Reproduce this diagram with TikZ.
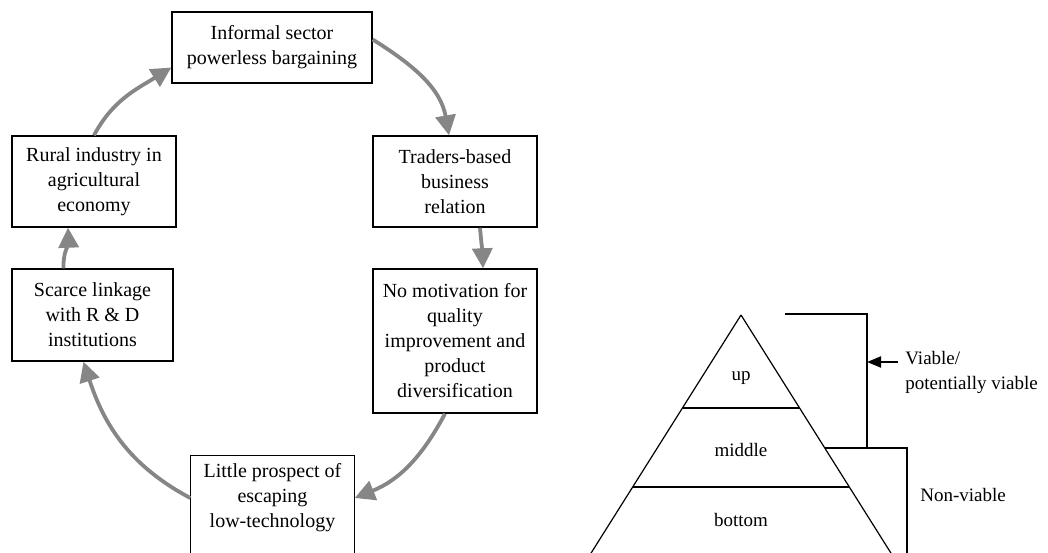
\documentclass[tikz,border=0pt]{standalone}
\usepackage{fontspec}
\setmainfont{Liberation Serif}
\usetikzlibrary{arrows.meta}

\tikzset{
  box/.style={draw, line width=0.7pt, align=center, inner sep=0pt,
    font=\fontsize{10}{12.5}\selectfont},
  cycle/.style={draw=gray!95, line width=1.9pt,
    -{Triangle[length=10pt,width=10pt]}},
  level/.style={font=\fontsize{9.5}{12.5}\selectfont}
}

\begin{document}
\begin{tikzpicture}[x=0.5pt, y=-0.5pt, line join=miter]
    \useasboundingbox (0,0) rectangle (1048,552);
    \clip (0,0) rectangle (1048,552);

    % the vicious circle
    \node[box, minimum width=100pt, minimum height=35.5pt] (inform) at (272,47.5)
      {Informal sector\\powerless bargaining};
    \node[box, minimum width=82pt, minimum height=45.5pt] (rural) at (94,181.5)
      {Rural industry in\\agricultural\\economy};
    \node[box, minimum width=82pt, minimum height=45.5pt] (traders) at (455,181.5)
      {Traders-based\\business\\relation};
    \node[box, minimum width=80.5pt, minimum height=46pt] (scarce) at (92.5,315)
      {Scarce linkage\\with R \& D\\institutions};
    \node[box, minimum width=82pt, minimum height=72pt] (motiv) at (455,341)
      {No motivation for\\quality\\improvement and\\product\\diversification};
    \node[box, draw=none, minimum width=81.5pt, minimum height=42pt] (prospect) at (272.5,498)
      {Little prospect of\\escaping\\low-technology};
    \draw[line width=0.7pt] (prospect.north west) rectangle ([yshift=-40pt]prospect.south east);

    \draw[cycle] (rural.north) to[out=62, in=212] ([yshift=-10pt]inform.west);
    \draw[cycle] ([yshift=4pt]inform.east) to[out=-32, in=100] ([xshift=-3pt]traders.north);
    \draw[cycle] ([xshift=12.5pt]traders.south) to[out=-85, in=92] ([xshift=14pt]motiv.north);
    \draw[cycle] ([xshift=-5pt]motiv.south) to[out=-118, in=22] (prospect.east);
    \draw[cycle] (prospect.west) to[out=152, in=-72] ([xshift=-4.5pt]scarce.south);
    \draw[cycle] ([xshift=-14.5pt]scarce.north) to[out=92, in=-88] ([xshift=-13pt]rural.south);

    % pyramid of the firms
    \draw[line width=0.6pt] (741,315) -- (561.5,600) (741,315) -- (920.5,600);
    \draw[line width=0.6pt] (682.5,408) -- (799.5,408);
    \draw[line width=0.6pt] (633,487) -- (849,487);
    \node[level] (up) at (741,378) {up};
    \node[level] (middle) at (741,450) {middle};
    \node[level] (bottom) at (741,520) {bottom};

    % brackets on the right
    \draw[line width=0.6pt] (785,314) -- (867,314) -- (867,448);
    \draw[line width=0.6pt] (824.7,448) -- (907,448) -- (907,600);
    \coordinate (tip) at (867,362);
    \node[level, align=left, anchor=west, inner sep=0pt] (viable) at (905,372)
      {Viable/\\potentially viable};
    \draw[line width=1pt, -{Triangle[length=7pt,width=5.5pt]}] (898,362) -- (tip);
    \node[level, anchor=west, inner sep=0pt] (nonviable) at (920,495) {Non-viable};
\end{tikzpicture}
\end{document}
